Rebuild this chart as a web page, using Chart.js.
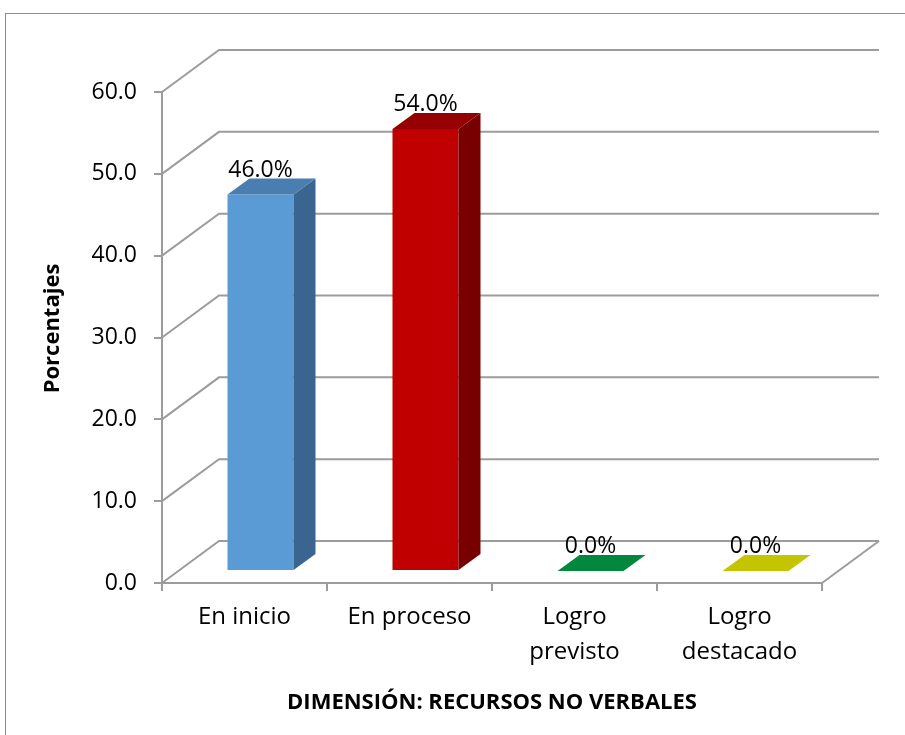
<!DOCTYPE html>
<html>
<head>
<meta charset="utf-8">
<script src="https://cdn.jsdelivr.net/npm/chart.js@4.4.1/dist/chart.umd.min.js"></script>
<style>
  html, body { margin: 0; padding: 0; background: #fff; overflow: hidden; }
  canvas { display: block; }
</style>
</head>
<body>
<canvas id="chart" width="905" height="735"></canvas>
<script>
const categories = [["En inicio"], ["En proceso"], ["Logro", "previsto"], ["Logro", "destacado"]];
const porcentajes = [46.0, 54.0, 0.0, 0.0];
const yMin = 0, yMax = 60, yStep = 10;
const yTitle = "Porcentajes";
const xTitle = "DIMENSIÓN: RECURSOS NO VERBALES";

const frontColors = ["#5B9BD5", "#C00000", "#00883E", "#C4C400"];
const topColors = ["#4A7DB0", "#960000", "#00883E", "#C4C400"];
const sideColors = ["#3A6590", "#780000", "#006A30", "#9A9A00"];

// oblique 3d offsets (excel look)
const WALL = { dx: 57, dy: -42 };
const FRONT = { dx: 16, dy: -12 };
const DEPTH = { dx: 22, dy: -16 };
const FONT = "'Open Sans', sans-serif";
const GRID = "#9c9c9c";

function poly(ctx, pts, color) {
  ctx.beginPath();
  ctx.moveTo(pts[0][0], pts[0][1]);
  pts.slice(1).forEach(p => ctx.lineTo(p[0], p[1]));
  ctx.closePath();
  ctx.fillStyle = color;
  ctx.fill();
}

const box3d = {
  id: "box3d",
  beforeDraw(chart) {
    const ctx = chart.ctx;
    ctx.save();
    ctx.strokeStyle = "#8c8c8c";
    ctx.lineWidth = 1;
    ctx.strokeRect(5.5, 13.5, 1000, 1000);
    ctx.restore();
  },
  beforeDatasetsDraw(chart) {
    const ctx = chart.ctx, y = chart.scales.y, a = chart.chartArea;
    ctx.save();
    ctx.strokeStyle = GRID;
    ctx.lineWidth = 2;
    y.ticks.forEach(t => {
      const py = y.getPixelForValue(t.value);
      ctx.beginPath();
      ctx.moveTo(a.left, py);
      ctx.lineTo(a.left + WALL.dx, py + WALL.dy);
      ctx.lineTo(a.right + WALL.dx, py + WALL.dy);
      ctx.stroke();
    });
    const y0 = y.getPixelForValue(yMin);
    ctx.beginPath();
    ctx.moveTo(a.right, y0);
    ctx.lineTo(a.right + WALL.dx, y0 + WALL.dy);
    ctx.stroke();
    ctx.restore();
  },
  afterDatasetsDraw(chart) {
    const ctx = chart.ctx;
    const meta = chart.getDatasetMeta(0);
    ctx.save();
    meta.data.forEach((bar, i) => {
      const half = bar.width / 2;
      const x1 = bar.x - half + FRONT.dx, x2 = bar.x + half + FRONT.dx;
      const yt = bar.y + FRONT.dy, yb = bar.base + FRONT.dy;
      if (yb - yt > 0.5) {
        poly(ctx, [[x1, yt], [x2, yt], [x2, yb], [x1, yb]], frontColors[i]);
        poly(ctx, [[x2, yt], [x2 + DEPTH.dx, yt + DEPTH.dy], [x2 + DEPTH.dx, yb + DEPTH.dy], [x2, yb]], sideColors[i]);
      }
      poly(ctx, [[x1, yt], [x1 + DEPTH.dx, yt + DEPTH.dy], [x2 + DEPTH.dx, yt + DEPTH.dy], [x2, yt]], topColors[i]);
      ctx.fillStyle = "#000";
      ctx.font = "23px " + FONT;
      ctx.textAlign = "center";
      ctx.textBaseline = "alphabetic";
      ctx.fillText(porcentajes[i].toFixed(1) + "%", bar.x + FRONT.dx, yt + DEPTH.dy - 2);
    });
    // y axis title
    const a = chart.chartArea;
    ctx.translate(53, (a.top + a.bottom) / 2 - 9);
    ctx.rotate(-Math.PI / 2);
    ctx.font = "bold 22px " + FONT;
    ctx.textBaseline = "middle";
    ctx.fillText(yTitle, 0, 0);
    ctx.restore();
  }
};

new Chart(document.getElementById("chart"), {
  type: "bar",
  data: {
    labels: categories,
    datasets: [{
      data: porcentajes,
      backgroundColor: "rgba(0,0,0,0)",
      barPercentage: 0.4,
      categoryPercentage: 1
    }]
  },
  options: {
    responsive: false,
    animation: false,
    layout: { padding: { top: 92, right: 83, bottom: 0, left: 0 } },
    plugins: { legend: { display: false }, tooltip: { enabled: false } },
    scales: {
      x: {
        grid: { drawOnChartArea: false, drawTicks: true, tickLength: 8, color: GRID, lineWidth: 2 },
        border: { display: true, color: GRID, width: 2 },
        ticks: { color: "#000", padding: 9, font: { family: FONT, size: 24, lineHeight: 35 / 24 } },
        title: { display: true, text: xTitle, color: "#000", font: { family: FONT, size: 22, weight: "bold" }, padding: { top: 0, bottom: 19 } },
        afterFit: s => { s.height = 152; }
      },
      y: {
        min: yMin,
        max: yMax,
        grid: { drawOnChartArea: false, drawTicks: true, tickLength: 8, color: GRID, lineWidth: 2 },
        border: { display: true, color: GRID, width: 2 },
        ticks: { stepSize: yStep, color: "#000", padding: 17, font: { family: FONT, size: 23 }, callback: v => v.toFixed(1) },
        title: { display: false },
        afterFit: s => { s.width = 162; }
      }
    }
  },
  plugins: [box3d]
});
</script>
</body>
</html>
